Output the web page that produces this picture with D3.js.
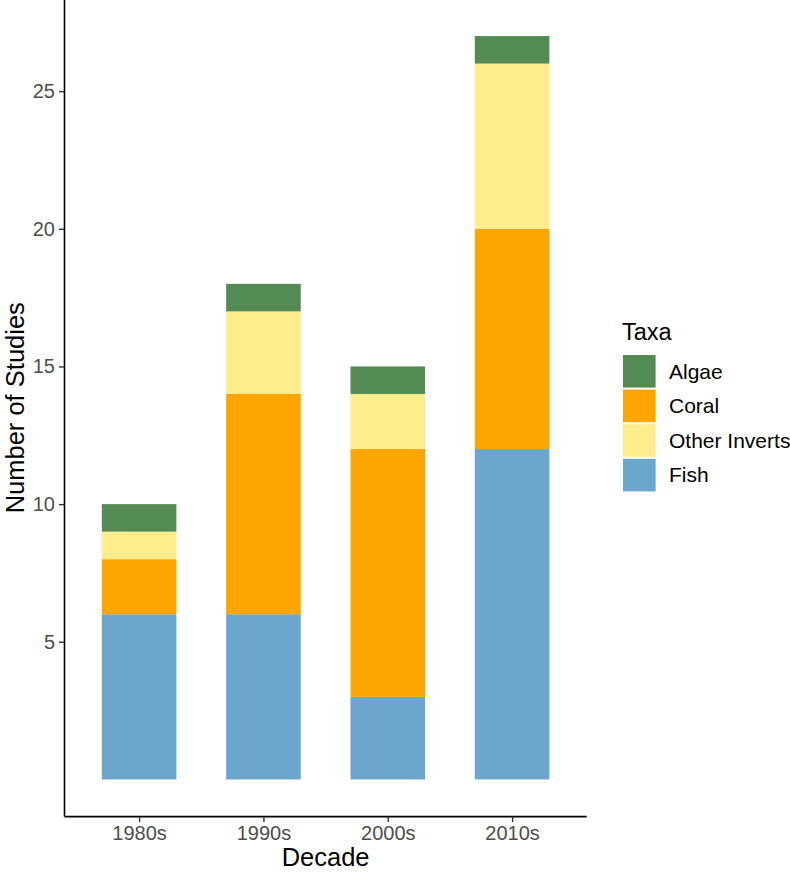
<!DOCTYPE html>
<html>
<head>
<meta charset="utf-8">
<script src="https://cdn.jsdelivr.net/npm/d3@7"></script>
<style>
  body { margin: 0; background: #fff; }
  text { font-family: "Liberation Sans", Arial, sans-serif; }
</style>
</head>
<body>
<div id="chart-area"></div>
<script>
// data
const decades = ["1980s", "1990s", "2000s", "2010s"];
const stackOrder = ["Fish", "Coral", "Other Inverts", "Algae"];   // bottom -> top
const legendOrder = ["Algae", "Coral", "Other Inverts", "Fish"];
const fish = [6, 6, 3, 12];
const coral = [2, 8, 9, 8];
const otherInverts = [1, 3, 2, 6];
const algae = [1, 1, 1, 1];
const yTicks = [5, 10, 15, 20, 25];
const colors = {"Algae": "#548B54", "Coral": "#FFA500", "Other Inverts": "#FFEC8B", "Fish": "#6CA6CD"};

const rows = decades.map((d, i) => ({
  decade: d, "Fish": fish[i], "Coral": coral[i], "Other Inverts": otherInverts[i], "Algae": algae[i]
}));

// layout
const W = 790, H = 872;
const plot = {LEFT: 64.5, TOP: -1.1, RIGHT: 586.7, BOTTOM: 816.6};

let svg = d3.select("#chart-area").append("svg")
  .attr("width", W)
  .attr("height", H);

// scales
const maxTotal = d3.max(rows, r => stackOrder.reduce((s, k) => s + r[k], 0));
const pad = maxTotal * 0.05;
const y = d3.scaleLinear()
  .domain([-pad, maxTotal + pad])
  .range([plot.BOTTOM, plot.TOP]);

const step = (plot.RIGHT - plot.LEFT) / (decades.length - 1 + 1.2);
const x = d3.scalePoint()
  .domain(decades)
  .range([plot.LEFT + 0.6 * step, plot.RIGHT - 0.6 * step]);
const barW = step * 0.6;

// bars
const series = d3.stack().keys(stackOrder)(rows);

svg.append("g").selectAll("g")
  .data(series)
  .enter().append("g")
  .attr("fill", s => colors[s.key])
  .selectAll("rect")
  .data(s => s)
  .enter().append("rect")
  .attr("x", d => x(d.data.decade) - barW / 2)
  .attr("width", barW)
  .attr("y", d => y(d[1]))
  .attr("height", d => y(d[0]) - y(d[1]));

// axes
const yAxis = svg.append("g")
  .attr("transform", `translate(${plot.LEFT},0)`)
  .call(d3.axisLeft(y).tickValues(yTicks).tickSize(5.5).tickPadding(4));
const xAxis = svg.append("g")
  .attr("transform", `translate(0,${plot.BOTTOM})`)
  .call(d3.axisBottom(x).tickSize(5.5).tickPadding(4));

[yAxis, xAxis].forEach(a => {
  a.select(".domain").attr("stroke", "#000").attr("stroke-width", 1.6);
  a.selectAll(".tick line").attr("stroke", "#333").attr("stroke-width", 1.4);
  a.selectAll(".tick text")
    .attr("fill", "#4D4D4D")
    .attr("font-size", "20px")
    .attr("font-family", "Liberation Sans, Arial, sans-serif");
});
// draw full domain lines (no end ticks)
yAxis.select(".domain").attr("d", `M0,${plot.BOTTOM}V${plot.TOP}`);
xAxis.select(".domain").attr("d", `M${plot.LEFT},0H${plot.RIGHT}`);

// axis titles
svg.append("text")
  .attr("x", (plot.LEFT + plot.RIGHT) / 2)
  .attr("y", 866)
  .attr("text-anchor", "middle")
  .attr("font-size", "25.5px")
  .text("Decade");
svg.append("text")
  .attr("transform", `translate(23.5,${(plot.TOP + plot.BOTTOM) / 2}) rotate(-90)`)
  .attr("text-anchor", "middle")
  .attr("font-size", "25.5px")
  .text("Number of Studies");

// legend
const legend = svg.append("g").attr("transform", "translate(622,0)");
legend.append("text")
  .attr("x", 0)
  .attr("y", 340)
  .attr("font-size", "23.5px")
  .text("Taxa");

const keySize = 34.6;
const items = legend.selectAll(".item")
  .data(legendOrder)
  .enter().append("g")
  .attr("class", "item")
  .attr("transform", (d, i) => `translate(0,${354 + i * keySize})`);
items.append("rect")
  .attr("x", 1)
  .attr("y", 1)
  .attr("width", keySize - 2)
  .attr("height", keySize - 2)
  .attr("fill", d => colors[d]);
items.append("text")
  .attr("x", 47)
  .attr("y", keySize / 2)
  .attr("dy", "0.35em")
  .attr("font-size", "21px")
  .attr("fill", "#000")
  .text(d => d);
</script>
</body>
</html>
